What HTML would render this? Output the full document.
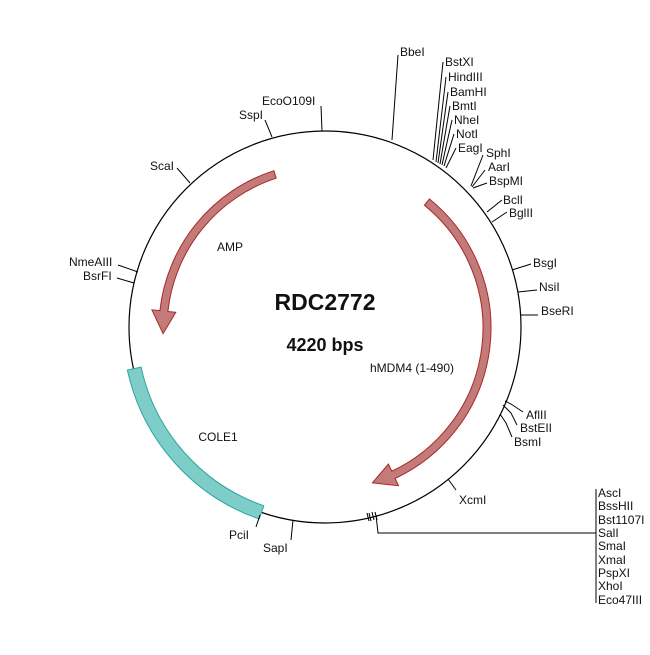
<!DOCTYPE html>
<html><head><meta charset="utf-8"><style>
html,body{margin:0;padding:0;background:#fff;}
svg text{font-family:"Liberation Sans",Arial,sans-serif;font-size:12px;fill:#111;}
</style></head><body>
<svg width="650" height="650" viewBox="0 0 650 650" xmlns="http://www.w3.org/2000/svg">
<circle cx="325" cy="327" r="196" fill="none" stroke="#000" stroke-width="1.2"/>
<path d="M259.2,519 A203,203 0 0 1 127.4,370 L141.1,367.1 A189,189 0 0 0 263.8,505.8 Z" fill="#7fcdc9" stroke="#2aa7a0" stroke-width="1"/>
<path d="M273.9,170.7 A166,166 0 0 0 159.9,310.6 L151.9,309.8 L163.1,333.7 L175.8,312.3 L167.9,311.5 A158,158 0 0 1 276.2,178.2 Z" fill="#c47a78" stroke="#a52a2a" stroke-width="1"/>
<path d="M429.5,199 A166,166 0 0 1 395.2,478.4 L398.5,485.7 L372.4,482.9 L388.4,464 L391.8,471.2 A158,158 0 0 0 424.4,205.2 Z" fill="#c47a78" stroke="#a52a2a" stroke-width="1"/>
<g stroke="#000" stroke-width="1" fill="none">
<polyline points="392,140 398,55"/>
<polyline points="433,160 443,62"/>
<polyline points="436,162 446,77"/>
<polyline points="438,163 448,92"/>
<polyline points="440,164 450,106"/>
<polyline points="442,165 452,120"/>
<polyline points="444,166 454,134"/>
<polyline points="446,168 456,148"/>
<polyline points="471,186 483,155"/>
<polyline points="472,187 485,170"/>
<polyline points="473,188 487,183"/>
<polyline points="487,212 502,200"/>
<polyline points="492,222 507,212"/>
<polyline points="512,270 531,264"/>
<polyline points="518,292 537,290"/>
<polyline points="521,315 538,315"/>
<polyline points="505,401 511,404 523,412"/>
<polyline points="503,405 511,413 517,425"/>
<polyline points="500,414 506,423 512,437"/>
<polyline points="448,479 456,490"/>
<polyline points="367,513 369,521"/>
<polyline points="369,513 371,521"/>
<polyline points="372,512 374,520"/>
<polyline points="375,512 377,520"/>
<polyline points="376,515 378,533 596,533"/>
<polyline points="596,489 596,603"/>
<polyline points="293,520 291,540"/>
<polyline points="260,515 256,527"/>
<polyline points="138,272 118,265"/>
<polyline points="134,283 117,278"/>
<polyline points="190,183 177,168"/>
<polyline points="272,137 265,120"/>
<polyline points="322,131 321,106"/>
</g>
<text x="400" y="56">BbeI</text>
<text x="445" y="66">BstXI</text>
<text x="448" y="81">HindIII</text>
<text x="450" y="96">BamHI</text>
<text x="452" y="110">BmtI</text>
<text x="454" y="124">NheI</text>
<text x="456" y="138">NotI</text>
<text x="458" y="152">EagI</text>
<text x="486" y="157">SphI</text>
<text x="488" y="171">AarI</text>
<text x="489" y="185">BspMI</text>
<text x="503" y="204">BclI</text>
<text x="509" y="217">BglII</text>
<text x="533" y="267">BsgI</text>
<text x="539" y="291">NsiI</text>
<text x="541" y="315">BseRI</text>
<text x="526" y="419">AflII</text>
<text x="520" y="432">BstEII</text>
<text x="514" y="446">BsmI</text>
<text x="459" y="504">XcmI</text>
<text x="598" y="497">AscI</text>
<text x="598" y="510">BssHII</text>
<text x="598" y="524">Bst1107I</text>
<text x="598" y="537">SalI</text>
<text x="598" y="550">SmaI</text>
<text x="598" y="564">XmaI</text>
<text x="598" y="577">PspXI</text>
<text x="598" y="590">XhoI</text>
<text x="598" y="604">Eco47III</text>
<text x="263" y="552">SapI</text>
<text x="229" y="539">PciI</text>
<text x="69" y="266">NmeAIII</text>
<text x="83" y="280">BsrFI</text>
<text x="150" y="170">ScaI</text>
<text x="239" y="119">SspI</text>
<text x="262" y="105">EcoO109I</text>
<text x="230" y="251" text-anchor="middle">AMP</text>
<text x="412" y="372" text-anchor="middle">hMDM4 (1-490)</text>
<text x="218" y="441" text-anchor="middle">COLE1</text>
<text x="325" y="310" text-anchor="middle" style="font-size:23px;font-weight:bold">RDC2772</text>
<text x="325" y="351" text-anchor="middle" style="font-size:18px;font-weight:bold">4220 bps</text>
</svg>
</body></html>
